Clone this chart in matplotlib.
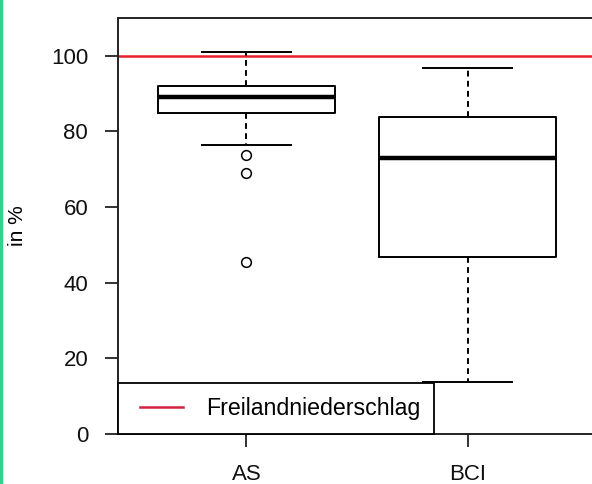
import matplotlib
matplotlib.use("Agg")
import matplotlib.pyplot as plt
from matplotlib.lines import Line2D
from matplotlib.legend_handler import HandlerBase

plt.rcParams['font.family'] = ['Liberation Sans', 'DejaVu Sans']

# Anteil des Freilandniederschlags (in %) je Standort
categories = ["AS", "BCI"]
whisker_low = [76.5, 13.8]
q1 = [84.8, 46.7]
median = [89.2, 72.9]
q3 = [91.9, 83.9]
whisker_high = [101.0, 96.7]
outliers = [[73.8, 69.0, 45.4], []]
reference_level = 100
legend_label = "Freilandniederschlag"


class InsetLineHandler(HandlerBase):
    """Legend line that starts a little way into its handle box."""

    def create_artists(self, legend, orig_handle, xdescent, ydescent,
                       width, height, fontsize, trans):
        y = (height - ydescent) / 2
        x0 = -xdescent + 0.16 * width
        x1 = -xdescent + width
        line = Line2D([x0, x1], [y, y], color=orig_handle.get_color(),
                      linewidth=orig_handle.get_linewidth())
        line.set_transform(trans)
        return [line]


fig = plt.figure(figsize=(5.92, 4.84), dpi=100)
ax = fig.add_axes([118 / 592, 50 / 484, 478 / 592, 416 / 484])

stats = []
for i, name in enumerate(categories):
    stats.append(dict(label=name, med=median[i], q1=q1[i], q3=q3[i],
                      whislo=whisker_low[i], whishi=whisker_high[i],
                      fliers=outliers[i]))

ax.bxp(stats, positions=[1, 2], widths=0.8, showfliers=True,
       boxprops=dict(color="black", linewidth=1.4),
       medianprops=dict(color="black", linewidth=3.2),
       whiskerprops=dict(color="black", linewidth=1.4, linestyle=(0, (3, 2.2))),
       capprops=dict(color="black", linewidth=1.4),
       capwidths=0.4,
       flierprops=dict(marker="o", markerfacecolor="none", markeredgecolor="black",
                       markersize=7, markeredgewidth=1.1))

ax.axhline(reference_level, color="#e8202a", linewidth=1.8, zorder=1)

ax.set_xlim(0.42, 2.58)
ax.set_ylim(0, 110)
ax.set_yticks([0, 20, 40, 60, 80, 100])
ax.set_xticks([1, 2])
ax.set_xticklabels(categories)
ax.tick_params(axis="both", direction="out", length=9.5, width=1.3,
               labelsize=16, color="#222222", labelcolor="#111111")
ax.tick_params(axis="y", pad=12)
ax.tick_params(axis="x", pad=12)
for s in ax.spines.values():
    s.set_linewidth(1.4)
    s.set_color("#222222")

ax.set_ylabel("in %", fontsize=15)
ax.yaxis.set_label_coords(-0.19, 0.5)

handle = Line2D([], [], color="#d42040", linewidth=1.8)
leg = ax.legend([handle], [legend_label], loc="lower left",
                bbox_to_anchor=(0, 0), borderaxespad=0, fontsize=16.7,
                frameon=True, fancybox=False, edgecolor="black",
                framealpha=1, borderpad=0.6, handlelength=2.2,
                handletextpad=0.99,
                handler_map={Line2D: InsetLineHandler()})
leg.get_frame().set_linewidth(1.3)

# thin green frame edge on the left
fig.add_artist(Line2D([0.002, 0.002], [0, 1], transform=fig.transFigure,
                      color="#35d08a", linewidth=2.5))

fig.savefig("out.png", dpi=100)
